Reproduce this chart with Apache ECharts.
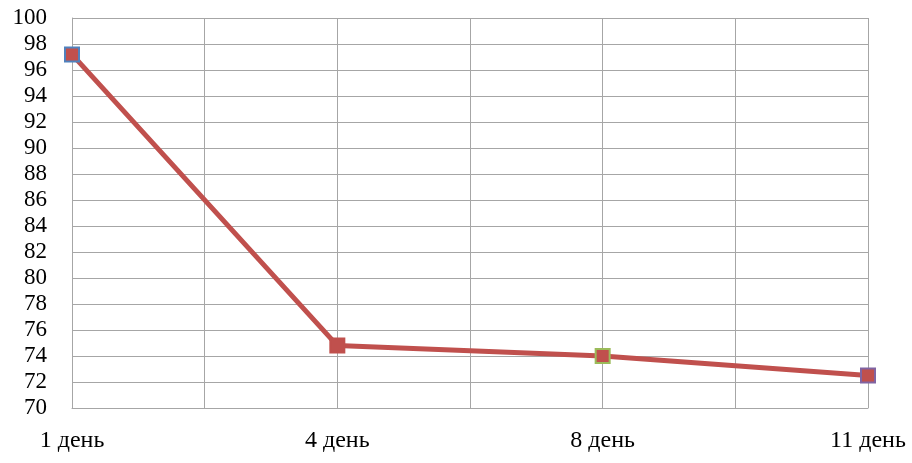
<!DOCTYPE html>
<html>
<head>
<meta charset="utf-8">
<script src="https://cdn.jsdelivr.net/npm/echarts@6/dist/echarts.min.js"></script>
<style>html,body{margin:0;padding:0;background:#fff}#c{width:912px;height:463px}</style>
</head>
<body>
<div id="c"></div>
<script>
const categories = ['1 день', '4 день', '8 день', '11 день'];
const values = [97.2, 74.8, 74.0, 72.5];
const yTicks = [70, 72, 74, 76, 78, 80, 82, 84, 86, 88, 90, 92, 94, 96, 98, 100];

const markerBorders = ['#4F81BD', '#C0504D', '#9BBB59', '#8064A2'];
const chart = echarts.init(document.getElementById('c'));
const font = 'Liberation Serif';
chart.setOption({
  animation: false,
  grid: { left: 72, right: 44, top: 18, bottom: 55, containLabel: false },
  xAxis: {
    type: 'value', min: 0, max: categories.length - 1, interval: 0.5,
    axisLine: { show: true, lineStyle: { color: '#A6A6A6', width: 1 } },
    axisTick: { show: false },
    splitLine: { show: true, lineStyle: { color: '#A6A6A6', width: 1 } },
    axisLabel: {
      margin: 21, color: '#000', fontFamily: font, fontSize: 24,
      formatter: v => Number.isInteger(v) ? categories[v] : ''
    }
  },
  yAxis: {
    type: 'value', min: yTicks[0], max: yTicks[yTicks.length - 1], interval: 2,
    axisLine: { show: true, lineStyle: { color: '#A6A6A6', width: 1 } },
    axisTick: { show: false },
    splitLine: { show: true, lineStyle: { color: '#A6A6A6', width: 1 } },
    axisLabel: { margin: 25, color: '#000', fontFamily: font, fontSize: 23 }
  },
  series: [{
    type: 'line',
    data: values.map((v, i) => ({ value: [i, v], itemStyle: { borderColor: markerBorders[i] } })),
    symbol: 'rect', symbolSize: 14,
    lineStyle: { color: '#C0504D', width: 5 },
    itemStyle: { color: '#C0504D', borderWidth: 2 }
  }]
});
</script>
</body>
</html>
